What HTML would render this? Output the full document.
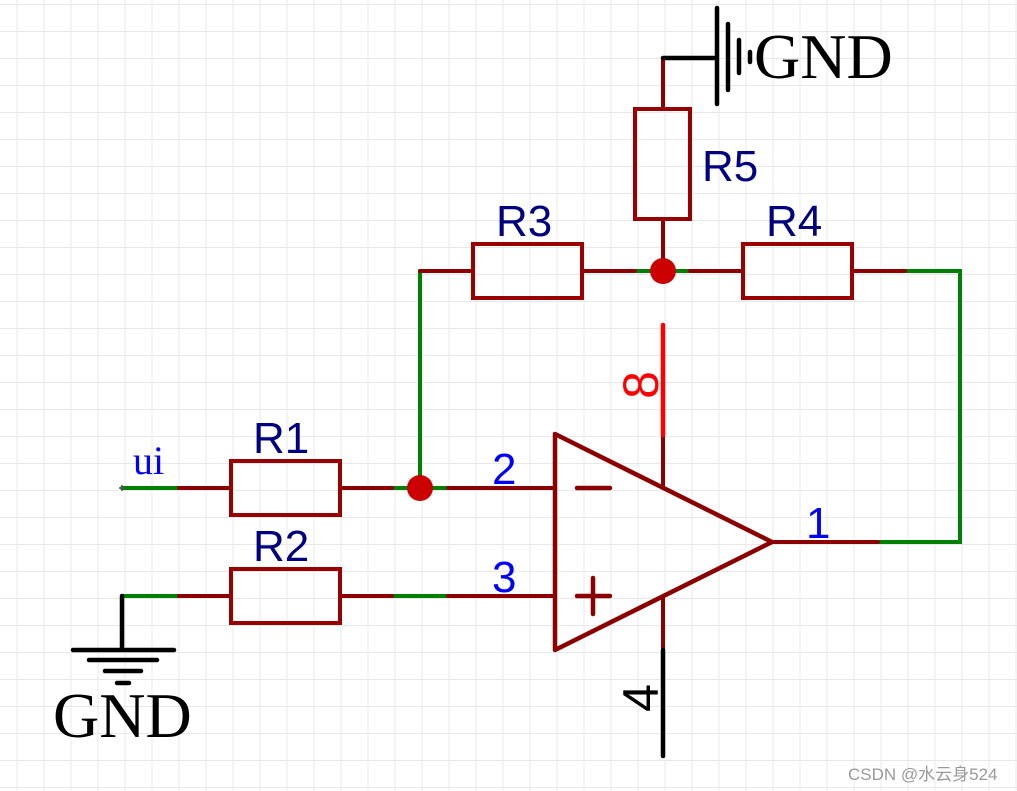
<!DOCTYPE html>
<html><head><meta charset="utf-8"><style>
html,body{margin:0;padding:0;background:#fff;width:1017px;height:791px;overflow:hidden}
svg{display:block}
</style></head><body>
<svg width="1017" height="791" viewBox="0 0 1017 791" xmlns="http://www.w3.org/2000/svg">
<defs>
<pattern id="g" x="16.5" y="4" width="27" height="27" patternUnits="userSpaceOnUse">
<path d="M0 0H27M0 0V27" stroke="#e8e8e8" stroke-width="2" fill="none"/>
</pattern>
</defs>
<rect x="0" y="0" width="1017" height="791" fill="url(#g)"/>
<g stroke-linecap="round" fill="none">
<g stroke="#008000" stroke-width="4">
<path d="M122 488H179M392 488H448M122 596H179M392 596H448M420 271V488M635 271H690M905 271H960V542H878"/>
</g>
<g stroke="#8b0000" stroke-width="4">
<path d="M179 488H231M340 488H392M448 488H555M179 596H231M340 596H392M448 596H555M420 271H473M582 271H635M690 271H743M852 271H905M772 542H878M663 58V109M663 219V271M663 435V488M663 596V650"/>
</g>
<g stroke="#990000" stroke-width="4">
<rect x="231" y="461" width="109" height="54"/>
<rect x="231" y="569" width="109" height="54"/>
<rect x="473" y="244" width="109" height="54"/>
<rect x="743" y="244" width="109" height="54"/>
<rect x="635" y="109" width="55" height="110"/>
</g>
<g stroke="#8b0000" stroke-width="4.5" stroke-linejoin="round">
<path d="M555 434L772 542L555 650Z"/>
<path d="M577 488H610M577 596H610M593 578V614"/>
</g>
<path d="M663 325V435" stroke="#ff0000" stroke-width="4.5"/>
<path d="M663 650V756" stroke="#000" stroke-width="4.5"/>
<g stroke="#000" stroke-width="4.5">
<path d="M122 596V650M73 650H174M89 660H157M105 671H141M117 683H129"/>
<path d="M663 58H717M717 8V104M728 24V90M739 40V73M750 52V62"/>
</g>
</g>
<circle cx="420" cy="488" r="13" fill="#cc0000"/>
<circle cx="663" cy="271" r="13" fill="#cc0000"/>
<path d="M119 488H125M122 485V491" stroke="#555" stroke-width="1.5"/>
<g font-family="Liberation Sans, sans-serif" font-size="44" fill="#000080">
<text x="253" y="453">R1</text>
<text x="253" y="561">R2</text>
<text x="496" y="236">R3</text>
<text x="766" y="236">R4</text>
<text x="702" y="181">R5</text>
</g>
<g font-family="Liberation Sans, sans-serif" font-size="44" fill="#0000ff">
<text x="492" y="484">2</text>
<text x="492" y="592">3</text>
<text x="806" y="538">1</text>
</g>
<text transform="translate(658 385) rotate(-90)" text-anchor="middle" font-family="Liberation Sans, sans-serif" font-size="50" fill="#ff0000">8</text>
<text transform="translate(658 698) rotate(-90)" text-anchor="middle" font-family="Liberation Sans, sans-serif" font-size="50" fill="#000">4</text>
<text x="133" y="474" font-family="Liberation Serif, serif" font-size="40" fill="#0000ff">ui</text>
<text x="53" y="737" font-family="Liberation Serif, serif" font-size="64" fill="#000">GND</text>
<text x="754" y="78" font-family="Liberation Serif, serif" font-size="64" fill="#000">GND</text>
<text x="848" y="780" font-family="Liberation Sans, 'Noto Sans CJK SC', sans-serif" font-size="17" fill="#9a9a9a">CSDN @水云身524</text>
</svg>
</body></html>
